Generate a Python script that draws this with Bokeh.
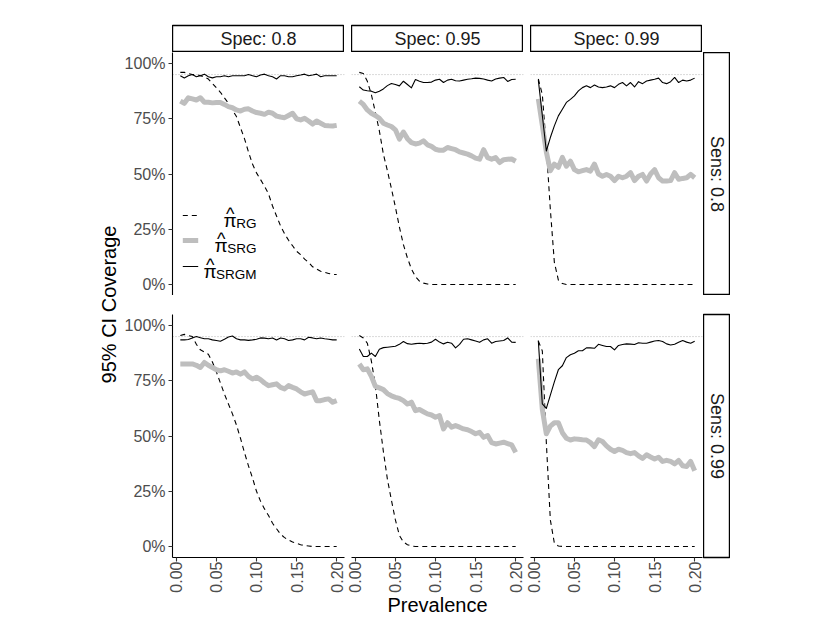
import math
from bokeh.plotting import figure
from bokeh.layouts import row, column
from bokeh.models import (Range1d, FixedTicker, NumeralTickFormatter, PrintfTickFormatter,
                          Span, Label, Arrow, Spacer)
from bokeh.embed import file_html
from bokeh.resources import INLINE

FONT = "Liberation Sans"

# ---------------- data ----------------
prevalence = [0.005, 0.010, 0.015, 0.020, 0.025, 0.030, 0.035, 0.040, 0.045, 0.050,
              0.055, 0.060, 0.065, 0.070, 0.075, 0.080, 0.085, 0.090, 0.095, 0.100,
              0.105, 0.110, 0.115, 0.120, 0.125, 0.130, 0.135, 0.140, 0.145, 0.150,
              0.155, 0.160, 0.165, 0.170, 0.175, 0.180, 0.185, 0.190, 0.195, 0.200]

spec_levels = ["0.8", "0.95", "0.99"]
sens_levels = ["0.8", "0.99"]
nominal = 0.95
x_ticks = [0.0, 0.05, 0.10, 0.15, 0.20]
y_ticks = [0.0, 0.25, 0.50, 0.75, 1.0]

# Sens 0.8, Spec 0.8
rg_se80_sp80 = [0.960, 0.960, 0.955, 0.950, 0.950, 0.945, 0.940, 0.930, 0.910, 0.890,
                0.870, 0.845, 0.820, 0.790, 0.760, 0.710, 0.660, 0.600, 0.545, 0.505,
                0.475, 0.445, 0.410, 0.355, 0.310, 0.265, 0.230, 0.200, 0.175, 0.150,
                0.135, 0.115, 0.100, 0.080, 0.070, 0.060, 0.055, 0.050, 0.045, 0.045]
srg_se80_sp80 = [0.830, 0.820, 0.845, 0.840, 0.835, 0.845, 0.825, 0.825, 0.822, 0.824,
                 0.824, 0.815, 0.805, 0.800, 0.790, 0.785, 0.793, 0.795, 0.785, 0.778,
                 0.775, 0.770, 0.780, 0.775, 0.762, 0.758, 0.755, 0.765, 0.775, 0.750,
                 0.745, 0.752, 0.740, 0.726, 0.740, 0.730, 0.720, 0.718, 0.717, 0.720]
srgm_se80_sp80 = [0.945, 0.935, 0.945, 0.950, 0.940, 0.945, 0.952, 0.940, 0.935, 0.940,
                  0.940, 0.945, 0.940, 0.945, 0.945, 0.945, 0.945, 0.950, 0.945, 0.940,
                  0.948, 0.952, 0.945, 0.940, 0.930, 0.945, 0.945, 0.940, 0.940, 0.945,
                  0.948, 0.952, 0.945, 0.948, 0.952, 0.940, 0.945, 0.945, 0.945, 0.945]

# Sens 0.8, Spec 0.95
rg_se80_sp95 = [0.960, 0.955, 0.920, 0.860, 0.780, 0.695, 0.590, 0.515, 0.435, 0.350,
                0.260, 0.180, 0.120, 0.070, 0.035, 0.015, 0.006, 0.002, 0.0, 0.0,
                0.0, 0.0, 0.0, 0.0, 0.0, 0.0, 0.0, 0.0, 0.0, 0.0,
                0.0, 0.0, 0.0, 0.0, 0.0, 0.0, 0.0, 0.0, 0.0, 0.0]
srg_se80_sp95 = [0.830, 0.815, 0.790, 0.775, 0.765, 0.752, 0.730, 0.722, 0.715, 0.700,
                 0.658, 0.690, 0.660, 0.642, 0.636, 0.640, 0.650, 0.632, 0.625, 0.612,
                 0.607, 0.608, 0.620, 0.615, 0.610, 0.600, 0.595, 0.590, 0.582, 0.572,
                 0.567, 0.610, 0.574, 0.567, 0.574, 0.552, 0.565, 0.567, 0.568, 0.558]
srgm_se80_sp95 = [0.895, 0.880, 0.877, 0.875, 0.868, 0.875, 0.885, 0.900, 0.910, 0.905,
                  0.899, 0.920, 0.905, 0.890, 0.928, 0.920, 0.914, 0.914, 0.916, 0.925,
                  0.929, 0.914, 0.925, 0.929, 0.922, 0.921, 0.925, 0.929, 0.931, 0.934,
                  0.933, 0.930, 0.925, 0.921, 0.930, 0.934, 0.937, 0.919, 0.928, 0.929]

# Sens 0.8, Spec 0.99
rg_se80_sp99 = [0.930, 0.860, 0.620, 0.340, 0.100, 0.020, 0.004, 0.0, 0.0, 0.0,
                0.0, 0.0, 0.0, 0.0, 0.0, 0.0, 0.0, 0.0, 0.0, 0.0,
                0.0, 0.0, 0.0, 0.0, 0.0, 0.0, 0.0, 0.0, 0.0, 0.0,
                0.0, 0.0, 0.0, 0.0, 0.0, 0.0, 0.0, 0.0, 0.0, 0.0]
srg_se80_sp99 = [0.840, 0.720, 0.600, 0.515, 0.545, 0.530, 0.575, 0.535, 0.558, 0.520,
                 0.510, 0.515, 0.520, 0.513, 0.545, 0.500, 0.490, 0.498, 0.490, 0.470,
                 0.490, 0.483, 0.490, 0.506, 0.470, 0.490, 0.498, 0.468, 0.500, 0.520,
                 0.483, 0.468, 0.468, 0.470, 0.506, 0.476, 0.480, 0.483, 0.498, 0.483]
srgm_se80_sp99 = [0.925, 0.765, 0.604, 0.665, 0.718, 0.763, 0.793, 0.824, 0.838, 0.854,
                  0.876, 0.891, 0.899, 0.891, 0.903, 0.894, 0.891, 0.894, 0.899, 0.891,
                  0.906, 0.914, 0.899, 0.914, 0.894, 0.918, 0.909, 0.921, 0.925, 0.929,
                  0.934, 0.914, 0.909, 0.918, 0.937, 0.914, 0.925, 0.921, 0.925, 0.934]

# Sens 0.99, Spec 0.8
rg_se99_sp80 = [0.955, 0.960, 0.955, 0.950, 0.915, 0.890, 0.880, 0.870, 0.835, 0.790,
                0.740, 0.690, 0.645, 0.600, 0.550, 0.490, 0.425, 0.365, 0.310, 0.250,
                0.205, 0.170, 0.140, 0.105, 0.080, 0.056, 0.040, 0.030, 0.020, 0.014,
                0.008, 0.004, 0.002, 0.0, 0.0, 0.0, 0.0, 0.0, 0.0, 0.0]
srg_se99_sp80 = [0.826, 0.826, 0.826, 0.826, 0.820, 0.810, 0.833, 0.820, 0.810, 0.800,
                 0.795, 0.800, 0.793, 0.785, 0.790, 0.780, 0.790, 0.770, 0.758, 0.766,
                 0.755, 0.740, 0.728, 0.732, 0.736, 0.720, 0.713, 0.728, 0.720, 0.713,
                 0.700, 0.690, 0.695, 0.700, 0.660, 0.660, 0.665, 0.668, 0.653, 0.660]
srgm_se99_sp80 = [0.935, 0.935, 0.937, 0.944, 0.950, 0.945, 0.940, 0.940, 0.935, 0.932,
                  0.929, 0.938, 0.948, 0.953, 0.940, 0.935, 0.935, 0.933, 0.935, 0.938,
                  0.944, 0.943, 0.940, 0.944, 0.935, 0.944, 0.940, 0.932, 0.935, 0.940,
                  0.940, 0.935, 0.947, 0.944, 0.940, 0.944, 0.940, 0.938, 0.935, 0.935]

# Sens 0.99, Spec 0.95
rg_se99_sp95 = [0.955, 0.944, 0.920, 0.840, 0.730, 0.570, 0.430, 0.305, 0.210, 0.120,
                0.050, 0.020, 0.008, 0.002, 0.0, 0.0, 0.0, 0.0, 0.0, 0.0,
                0.0, 0.0, 0.0, 0.0, 0.0, 0.0, 0.0, 0.0, 0.0, 0.0,
                0.0, 0.0, 0.0, 0.0, 0.0, 0.0, 0.0, 0.0, 0.0, 0.0]
srg_se99_sp95 = [0.826, 0.800, 0.804, 0.770, 0.725, 0.718, 0.710, 0.692, 0.682, 0.675,
                 0.670, 0.660, 0.645, 0.653, 0.615, 0.620, 0.610, 0.600, 0.595, 0.585,
                 0.592, 0.532, 0.560, 0.540, 0.547, 0.540, 0.532, 0.528, 0.520, 0.510,
                 0.517, 0.494, 0.502, 0.470, 0.464, 0.468, 0.472, 0.466, 0.460, 0.426]
srgm_se99_sp95 = [0.894, 0.860, 0.860, 0.875, 0.860, 0.893, 0.900, 0.902, 0.904, 0.906,
                  0.915, 0.928, 0.918, 0.915, 0.918, 0.920, 0.918, 0.920, 0.925, 0.938,
                  0.925, 0.917, 0.924, 0.920, 0.899, 0.915, 0.938, 0.940, 0.935, 0.930,
                  0.924, 0.935, 0.940, 0.920, 0.928, 0.930, 0.932, 0.944, 0.925, 0.924]

# Sens 0.99, Spec 0.99
rg_se99_sp99 = [0.930, 0.885, 0.470, 0.120, 0.015, 0.002, 0.0, 0.0, 0.0, 0.0,
                0.0, 0.0, 0.0, 0.0, 0.0, 0.0, 0.0, 0.0, 0.0, 0.0,
                0.0, 0.0, 0.0, 0.0, 0.0, 0.0, 0.0, 0.0, 0.0, 0.0,
                0.0, 0.0, 0.0, 0.0, 0.0, 0.0, 0.0, 0.0, 0.0, 0.0]
srg_se99_sp99 = [0.850, 0.620, 0.510, 0.545, 0.560, 0.560, 0.515, 0.490, 0.482, 0.487,
                 0.485, 0.483, 0.482, 0.470, 0.452, 0.483, 0.475, 0.455, 0.440, 0.430,
                 0.440, 0.435, 0.425, 0.420, 0.425, 0.410, 0.398, 0.415, 0.405, 0.396,
                 0.404, 0.385, 0.390, 0.385, 0.374, 0.389, 0.365, 0.362, 0.385, 0.343]
srgm_se99_sp99 = [0.932, 0.645, 0.625, 0.685, 0.745, 0.800, 0.818, 0.855, 0.868, 0.875,
                  0.886, 0.886, 0.899, 0.899, 0.897, 0.915, 0.910, 0.905, 0.905, 0.890,
                  0.910, 0.914, 0.917, 0.916, 0.914, 0.922, 0.920, 0.920, 0.925, 0.930,
                  0.932, 0.928, 0.917, 0.912, 0.915, 0.924, 0.932, 0.925, 0.920, 0.929]

series = {
    ("0.8", "0.8"): (rg_se80_sp80, srg_se80_sp80, srgm_se80_sp80),
    ("0.8", "0.95"): (rg_se80_sp95, srg_se80_sp95, srgm_se80_sp95),
    ("0.8", "0.99"): (rg_se80_sp99, srg_se80_sp99, srgm_se80_sp99),
    ("0.99", "0.8"): (rg_se99_sp80, srg_se99_sp80, srgm_se99_sp80),
    ("0.99", "0.95"): (rg_se99_sp95, srg_se99_sp95, srgm_se99_sp95),
    ("0.99", "0.99"): (rg_se99_sp99, srg_se99_sp99, srgm_se99_sp99),
}

# ---------------- styling ----------------
XR = (-0.00475, 0.20975)
YR = (-0.05, 1.05)
FW, FH = 172, 243
GAP = 7
RPAD = 2
ROW_GAP = 19
LEFT_AX = 52
BOTTOM_AX = 63
STRIP_H = 26
TOP_PAD = 25
STRIP_W = 27
YLAB_W = 120

RG_STYLE = dict(line_color="black", line_width=1.1, line_dash="5 4")
SRG_STYLE = dict(line_color="#BEBEBE", line_width=5, line_join="round")
SRGM_STYLE = dict(line_color="black", line_width=1.1, line_join="round")


def style_axis(ax):
    ax.axis_line_color = "black"
    ax.axis_line_width = 1.1
    ax.major_tick_line_color = "#333333"
    ax.major_tick_line_width = 1.1
    ax.major_tick_out = 4
    ax.major_tick_in = 0
    ax.minor_tick_line_color = None
    ax.major_label_text_font = FONT
    ax.major_label_text_font_size = "16px"
    ax.major_label_text_color = "#4D4D4D"


def fx(px):
    return XR[0] + px / FW * (XR[1] - XR[0])


def fy(py):
    return YR[1] - py / FH * (YR[1] - YR[0])


def add_legend(p):
    rows = [(163, "RG", RG_STYLE, 20.5), (188, "SRG", SRG_STYLE, 29.5), (214, "SRGM", SRGM_STYLE, 40.5)]
    for ry, sub, st, subw in rows:
        p.add_layout(Arrow(start=None, end=None, x_start=fx(10.3), y_start=fy(ry),
                           x_end=fx(25.7), y_end=fy(ry),
                           **{k: v for k, v in st.items() if k != "line_join"}))
        p.add_layout(Label(x=fx(84), y=fy(ry + 8), text=sub, text_align="right",
                           text_baseline="alphabetic", text_font=FONT, text_font_size="13.5px",
                           text_color="black"))
        xc = 84 - subw - 1 - 5
        p.add_layout(Label(x=fx(xc), y=fy(ry + 5), text="\u03c0", text_align="center",
                           text_baseline="alphabetic", text_font=FONT, text_font_size="19px",
                           text_color="black"))
        p.add_layout(Label(x=fx(xc + 0.3), y=fy(ry - 1.1), text="^", text_align="center",
                           text_baseline="alphabetic", text_font=FONT, text_font_size="18px",
                           text_color="black"))


def panel(ri, ci):
    sens = sens_levels[ri]
    spec = spec_levels[ci]
    left = ci == 0
    bottom = ri == 1
    p = figure(frame_width=FW, frame_height=FH, x_range=Range1d(*XR), y_range=Range1d(*YR),
               output_backend="svg", toolbar_location=None, title=None,
               x_axis_location="below" if bottom else None,
               y_axis_location="left" if left else None,
               min_border_left=LEFT_AX if left else GAP - RPAD,
               min_border_right=RPAD if ci < 2 else 1,
               min_border_top=0 if ri == 0 else ROW_GAP,
               min_border_bottom=BOTTOM_AX if bottom else 0,
               background_fill_color="white", border_fill_color="white",
               outline_line_color=None)
    p.grid.visible = False
    p.add_layout(Span(location=nominal, dimension="width", line_color="#B5B5B5",
                      line_width=1, line_dash="1 2", level="underlay"))
    rg, srg, srgm = series[(sens, spec)]
    p.line(prevalence, rg, **RG_STYLE)
    p.line(prevalence, srg, **SRG_STYLE)
    p.line(prevalence, srgm, **SRGM_STYLE)
    if left:
        ax = p.yaxis[0]
        style_axis(ax)
        ax.ticker = FixedTicker(ticks=y_ticks)
        ax.formatter = NumeralTickFormatter(format="0%")
        ax.major_label_standoff = 3
    if bottom:
        ax = p.xaxis[0]
        style_axis(ax)
        ax.ticker = FixedTicker(ticks=x_ticks)
        ax.formatter = PrintfTickFormatter(format="%.2f")
        ax.major_label_orientation = math.pi / 2
        ax.major_label_standoff = 0
        if ci == 1:
            ax.axis_label = "Prevalence"
            ax.axis_label_text_font = FONT
            ax.axis_label_text_font_size = "20px"
            ax.axis_label_text_font_style = "normal"
            ax.axis_label_text_color = "black"
            ax.axis_label_standoff = -2
    if ri == 0 and ci == 0:
        add_legend(p)
    return p


def strip(text, w, h, top, bottom, left, angle):
    s = figure(frame_width=w, frame_height=h, x_range=Range1d(0, 1), y_range=Range1d(0, 1),
               min_border_top=top, min_border_bottom=bottom, min_border_left=left,
               min_border_right=0, x_axis_location=None, y_axis_location=None,
               toolbar_location=None, output_backend="svg", title=None,
               outline_line_color="black", outline_line_width=1.4,
               background_fill_color="white", border_fill_color="white")
    s.grid.visible = False
    s.add_layout(Label(x=0.5, y=0.5, text=text, angle=angle, text_align="center",
                       text_baseline="middle", text_font=FONT, text_font_size="18px",
                       text_color="#1A1A1A"))
    return s


panels = [[panel(ri, ci) for ci in range(3)] for ri in range(2)]

top_strips = [strip("Spec: " + s, FW, STRIP_H, TOP_PAD, 1, 0, 0) for s in spec_levels]
right_strips = [
    strip("Sens: " + sens_levels[0], STRIP_W, FH, 0, 0, 0, -math.pi / 2),
    strip("Sens: " + sens_levels[1], STRIP_W, FH, ROW_GAP, BOTTOM_AX, 0, -math.pi / 2),
]

total_h = TOP_PAD + STRIP_H + 1 + FH + ROW_GAP + FH + BOTTOM_AX
ylab = figure(frame_width=YLAB_W, frame_height=total_h, x_range=Range1d(0, YLAB_W),
              y_range=Range1d(0, total_h), min_border_top=0, min_border_bottom=0,
              min_border_left=0, min_border_right=0, x_axis_location=None,
              y_axis_location=None, toolbar_location=None, output_backend="svg",
              title=None, outline_line_color=None, border_fill_color="white",
              background_fill_color="white")
ylab.grid.visible = False
ylab.add_layout(Label(x=108, y=total_h - 304, text="95% CI Coverage", angle=math.pi / 2,
                      text_align="center", text_baseline="middle", text_font=FONT,
                      text_font_size="20px", text_color="black"))

sh = TOP_PAD + STRIP_H + 1
strip_row = row(Spacer(width=LEFT_AX, height=sh), top_strips[0],
                Spacer(width=GAP, height=sh), top_strips[1],
                Spacer(width=GAP, height=sh), top_strips[2])
top_row = row(panels[0][0], panels[0][1], panels[0][2], right_strips[0])
bottom_row = row(panels[1][0], panels[1][1], panels[1][2], right_strips[1])

layout = row(ylab, column(strip_row, top_row, bottom_row))

open("out.html", "w").write(file_html(layout, INLINE, title="coverage"))
